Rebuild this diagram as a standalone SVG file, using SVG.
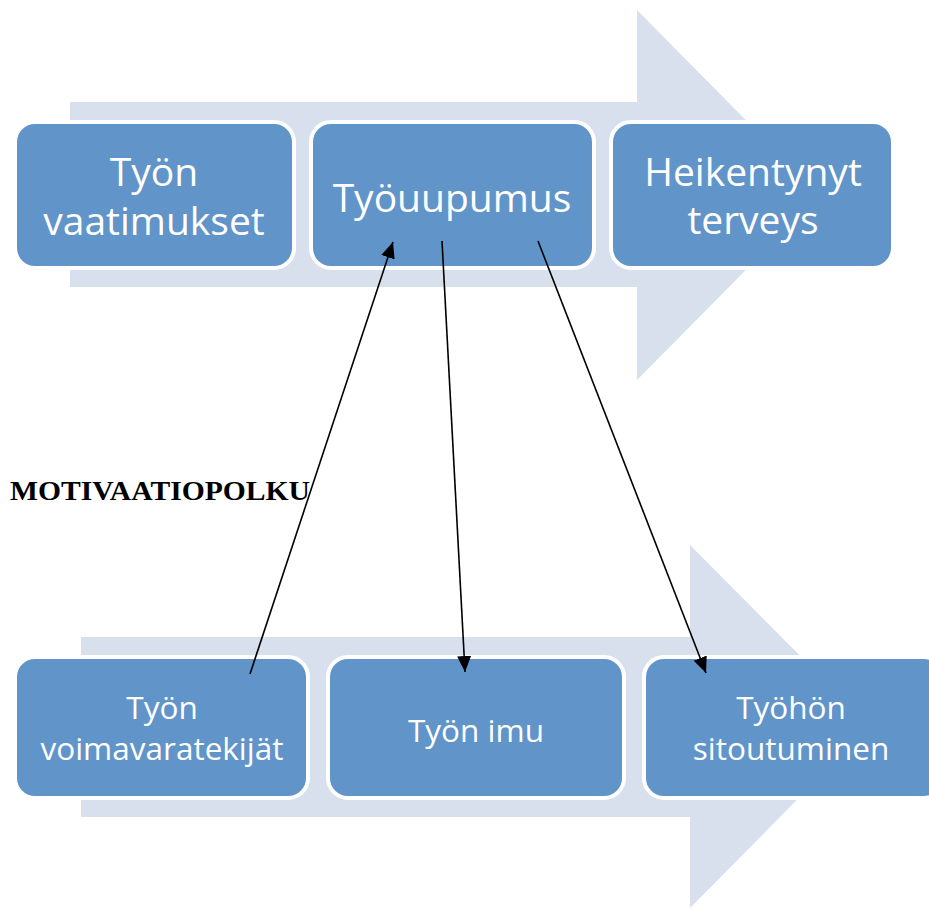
<svg xmlns="http://www.w3.org/2000/svg" width="929" height="909" viewBox="0 0 929 909">
<defs>
<style>
.bg{fill:#D8DFED}
.box{fill:#6194C9;stroke:#FFFFFF;stroke-width:4}
.t{font-family:"Open Sans","Noto Sans","Liberation Sans",sans-serif;fill:#FFFFFF;text-anchor:middle}
.big{font-size:39px}
.small{font-size:31.5px}
.conn{stroke:#000000;stroke-width:1.6;fill:none;marker-end:url(#ah)}
.lbl{font-family:"Liberation Serif","Times New Roman",serif;font-weight:bold;font-size:28px;fill:#000000}
</style>
<marker id="ah" markerUnits="userSpaceOnUse" markerWidth="16" markerHeight="14" viewBox="0 0 16 14" refX="16" refY="7" orient="auto">
<path d="M0,0 L16,7 L0,14 Z" fill="#000000"/>
</marker>
</defs>
<rect width="929" height="909" fill="#FFFFFF"/>
<g id="arrow-top">
<polygon class="bg" points="70,102 637,102 637,10 820,195 637,380 637,287 70,287"/>
</g>
<g id="arrow-bottom">
<polygon class="bg" points="81,637 690,637 690,545 870,726 690,908 690,817 81,817"/>
</g>
<g id="node-tyon-vaatimukset">
<rect class="box" x="15" y="122" width="279" height="146" rx="20"/>
<text class="t big" x="154" y="186">Työn</text>
<text class="t big" x="154" y="235">vaatimukset</text>
</g>
<g id="node-tyouupumus">
<rect class="box" x="311" y="122" width="283" height="146" rx="20"/>
<text class="t big" x="452" y="212">Työuupumus</text>
</g>
<g id="node-heikentynyt-terveys">
<rect class="box" x="611" y="122" width="282" height="146" rx="20"/>
<text class="t big" x="753" y="186">Heikentynyt</text>
<text class="t big" x="753" y="234">terveys</text>
</g>
<g id="node-tyon-voimavaratekijat">
<rect class="box" x="15" y="657" width="293" height="141" rx="20"/>
<text class="t small" x="162" y="719">Työn</text>
<text class="t small" x="162" y="760">voimavaratekijät</text>
</g>
<g id="node-tyon-imu">
<rect class="box" x="328" y="657" width="296" height="141" rx="20"/>
<text class="t small" x="476" y="742">Työn imu</text>
</g>
<g id="node-tyohon-sitoutuminen">
<rect class="box" x="644" y="657" width="300" height="141" rx="20"/>
<text class="t small" x="791" y="719">Työhön</text>
<text class="t small" x="791" y="760">sitoutuminen</text>
</g>
<g id="label-motivaatiopolku">
<text class="lbl" x="10" y="500" textLength="300" lengthAdjust="spacingAndGlyphs">MOTIVAATIOPOLKU</text>
</g>
<g id="connectors">
<line class="conn" x1="250" y1="674" x2="393" y2="242"/>
<line class="conn" x1="442" y1="241" x2="465" y2="672"/>
<line class="conn" x1="538" y1="241" x2="706" y2="673"/>
</g>
</svg>
